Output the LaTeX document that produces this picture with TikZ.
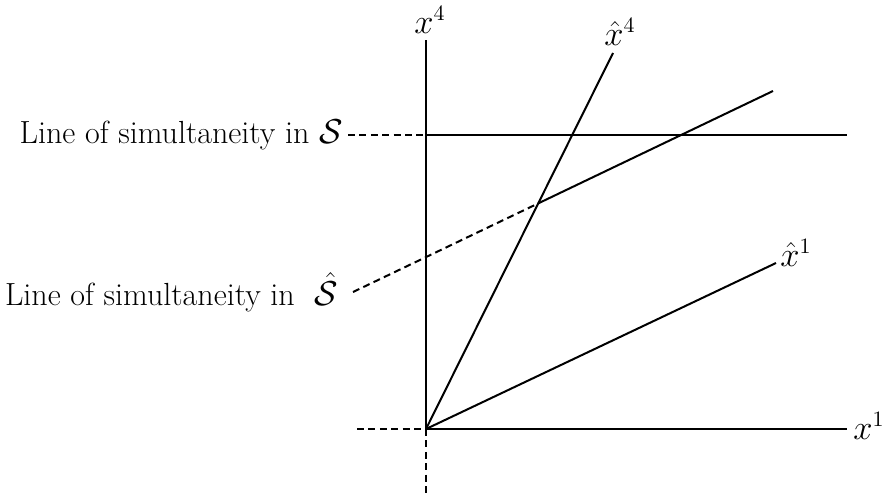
\documentclass[tikz,border=0pt]{standalone}
\usepackage{amsmath}
\begin{document}
\begin{tikzpicture}[x=0.5pt,y=-0.5pt,
  ln/.style={line width=1pt},
  dsh/.style={line width=1pt, dash pattern=on 3.5pt off 2.2pt},
  lbl/.style={inner sep=0pt, font=\fontsize{16}{20}\selectfont},
  txt/.style={inner ysep=2pt, font=\fontsize{16}{20}\selectfont}]
\useasboundingbox (0,0) rectangle (886,497);
% coordinates
\coordinate (O) at (426,429);
\coordinate (x4top) at (426,40);
\coordinate (x1end) at (847,429);
\coordinate (bot) at (426,497);
\coordinate (leftO) at (357,429);
\coordinate (h4end) at (613,53);
\coordinate (h1end) at (776,263);
\coordinate (sA) at (426,135);
\coordinate (sR) at (847,135);
\coordinate (hsR) at (773,91);
% labels
\node[lbl] (x4lab) at (430,20) {$x^4$};
\node[lbl] (h4lab) at (620,32) {$\hat{x}^4$};
\node[lbl] (h1lab) at (796,253) {$\hat{x}^1$};
\node[lbl] (x1lab) at (869,426) {$x^1$};
\node[txt, inner xsep=2.5pt, anchor=east] (sLab) at (348,135) {Line of simultaneity in $\mathcal{S}$};
\node[txt, inner xsep=7.5pt, anchor=east] (hsLab) at (353,292) {Line of simultaneity in \ $\hat{\mathcal{S}}$};
\coordinate (hsM) at (intersection of O--h4end and hsLab.east--hsR);
% axes
\draw[ln] (O) -- (x4top);
\draw[ln] (O) -- (x1end);
\draw[dsh] (O) -- (bot);
\draw[dsh] (leftO) -- (O);
\draw[ln] (O) -- (h4end);
\draw[ln] (O) -- (h1end);
% simultaneity lines
\draw[dsh] (sLab.east) -- (sA);
\draw[ln] (sA) -- (sR);
\draw[dsh] (hsLab.east) -- (hsM);
\draw[ln] (hsM) -- (hsR);
\end{tikzpicture}
\end{document}
